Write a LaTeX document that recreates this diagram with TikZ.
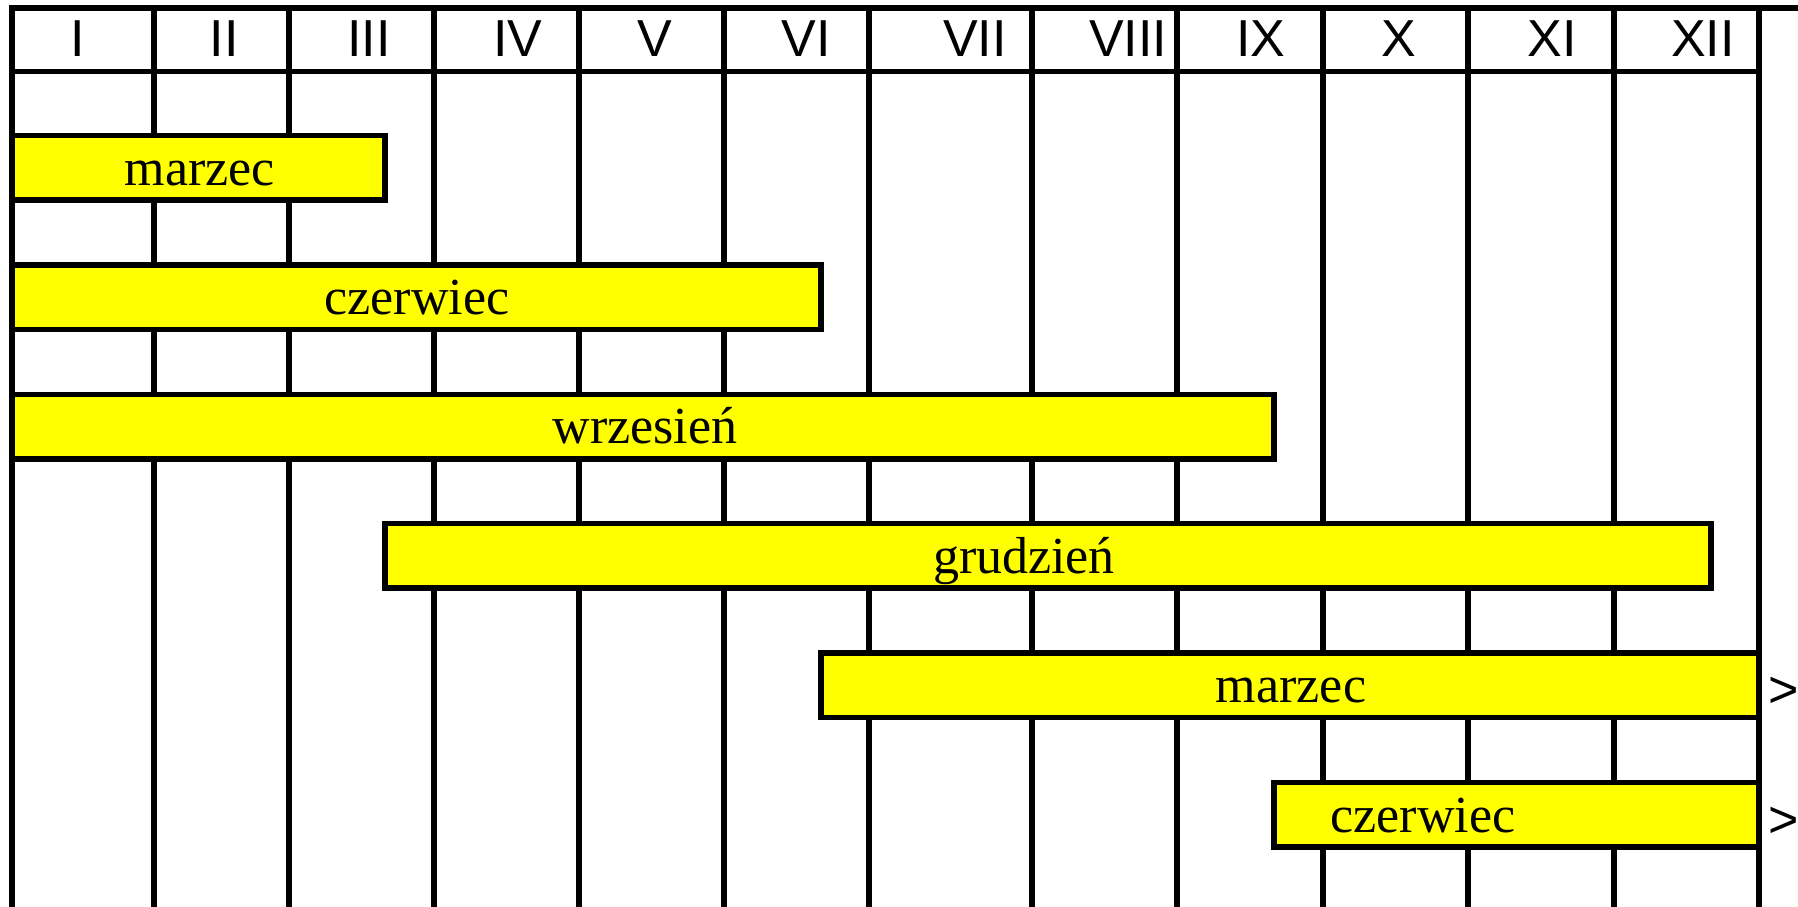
\documentclass[tikz,border=0pt]{standalone}
\usepackage{fontspec}
\setmainfont{Liberation Serif}
\newfontfamily\monthfont{Liberation Sans}
\definecolor{baryellow}{RGB}{255,255,0}
\begin{document}
\begin{tikzpicture}[x=1pt,y=-1pt,
  gridline/.style={line width=5.5pt},
  bar/.style={draw=black,fill=baryellow,line width=5.5pt},
  barlabel/.style={anchor=base,inner sep=0pt,font=\fontsize{52}{60}\selectfont},
  monthlabel/.style={anchor=base,inner sep=0pt,font=\monthfont\fontsize{52}{60}\selectfont}]
\useasboundingbox (0,0) rectangle (1798,907);
% month columns
\foreach \x in {12,154,289,434,579,724,869,1032,1177,1323,1468,1614,1759}
  \draw[gridline] (\x,8) -- (\x,907);
\draw[gridline] (9.25,8) -- (1798,8);
\draw[gridline] (9.25,71.5) -- (1761.75,71.5);
% month headers
\node[monthlabel] (m1)  at (78,56.7)   {I};
\node[monthlabel] (m2)  at (224,56.7)  {II};
\node[monthlabel] (m3)  at (369,56.7)  {III};
\node[monthlabel] (m4)  at (518,56.7)  {IV};
\node[monthlabel] (m5)  at (655,56.7)  {V};
\node[monthlabel] (m6)  at (806,56.7)  {VI};
\node[monthlabel] (m7)  at (975,56.7)  {VII};
\node[monthlabel] (m8)  at (1128,56.7) {VIII};
\node[monthlabel] (m9)  at (1261,56.7) {IX};
\node[monthlabel] (m10) at (1399,56.7) {X};
\node[monthlabel] (m11) at (1552,56.7) {XI};
\node[monthlabel] (m12) at (1703,56.7) {XII};
% periods
\draw[bar] (12,135.5)  rectangle (385,200);
\draw[bar] (12,264.9)  rectangle (821,329.4);
\draw[bar] (12,394.3)  rectangle (1274,458.8);
\draw[bar] (385,523.7) rectangle (1711,588.2);
\draw[bar] (821,653.1) rectangle (1759,717.6);
\draw[bar] (1274,782.5) rectangle (1759,847);
\node[barlabel] (p1) at (200,185)    {marzec};
\node[barlabel] (p2) at (417,314.4)  {czerwiec};
\node[barlabel] (p3) at (645,443.8)  {wrzesień};
\node[barlabel] (p4) at (1024,573.2) {grudzień};
\node[barlabel] (p5) at (1291,702.6) {marzec};
\node[barlabel] (p6) at (1423,832)   {czerwiec};
% continuation marks
\node[monthlabel] (c5) at (1783.5,707) {>};
\node[monthlabel] (c6) at (1783.5,837) {>};
\end{tikzpicture}
\end{document}
